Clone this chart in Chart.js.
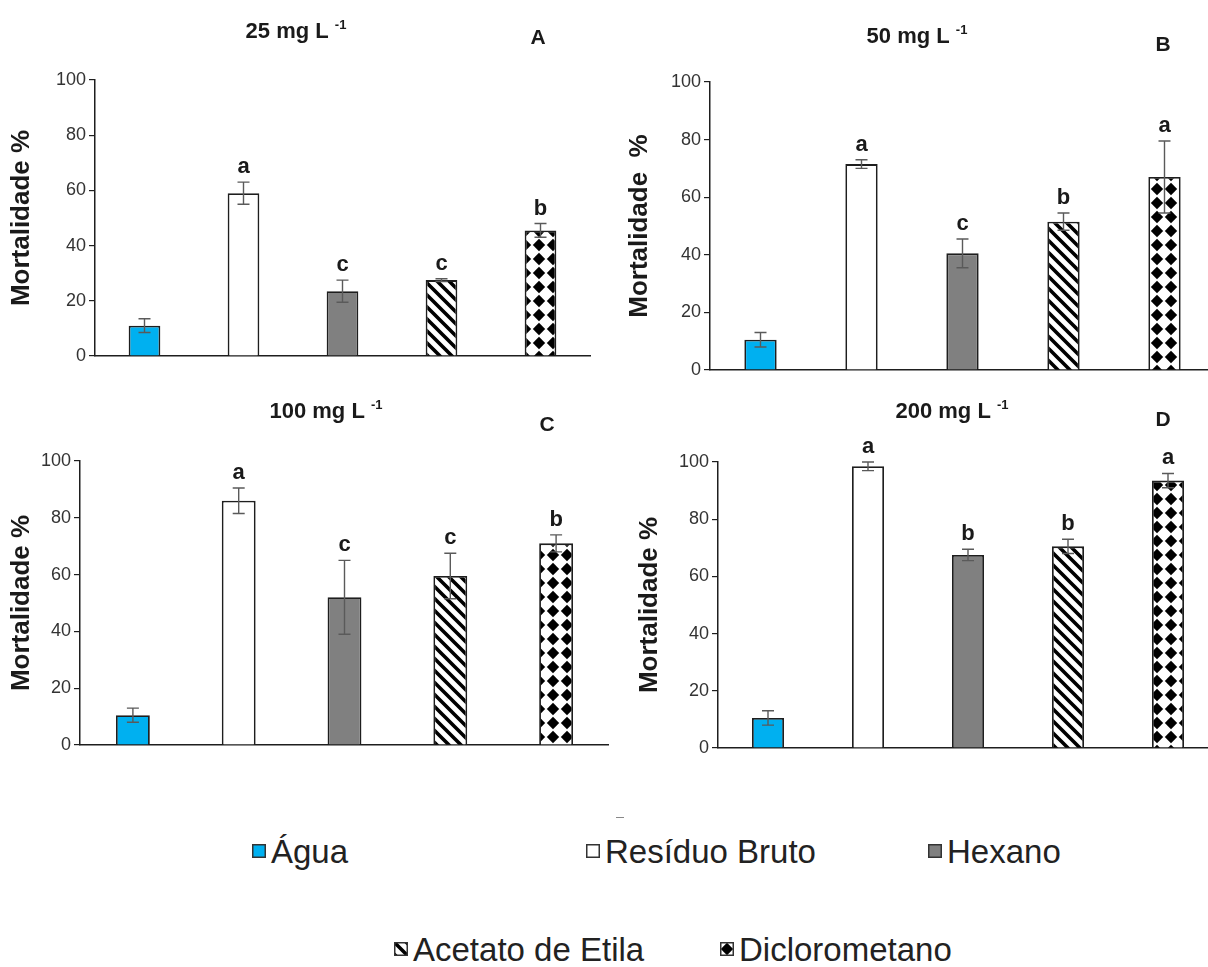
<!DOCTYPE html>
<html>
<head>
<meta charset="utf-8">
<script src="https://cdn.jsdelivr.net/npm/chart.js@4.4.1/dist/chart.umd.min.js"></script>
<style>
  html, body { margin: 0; padding: 0; background: #fff; overflow: hidden; }
  #wrap { position: relative; width: 1208px; height: 967px; overflow: hidden; }
  canvas.panel { position: absolute; }
  .leg { position: absolute; display: flex; align-items: center; white-space: nowrap; line-height: 1;
         font-family: 'Liberation Sans', Arial, sans-serif; font-size: 33px; color: #222; }
  .leg canvas { margin-right: 5px; }
  .tick { position: absolute; left: 616px; top: 817px; width: 8px; height: 1px; background: #888; }
</style>
</head>
<body>
<div id="wrap">
  <canvas id="pA" class="panel"></canvas>
  <canvas id="pB" class="panel"></canvas>
  <canvas id="pC" class="panel"></canvas>
  <canvas id="pD" class="panel"></canvas>
  <div class="tick"></div>
</div>
<script>
// Mortality (%) per extract at four concentrations.
const categories = ['Água', 'Resíduo Bruto', 'Hexano', 'Acetato de Etila', 'Diclorometano'];
const yTicks = [0, 20, 40, 60, 80, 100];

const mort25 = [11, 59, 23.5, 27.5, 45.5];
const err25 = [2.5, 4, 4, 0.5, 2.5];
const sig25 = ['', 'a', 'c', 'c', 'b'];

const mort50 = [10.5, 71.5, 40.5, 51.5, 67];
const err50 = [2.5, 1.5, 5, 3, 12.5];
const sig50 = ['', 'a', 'c', 'b', 'a'];

const mort100 = [10.5, 86, 52, 59.5, 71];
const err100 = [2.5, 4.5, 13, 8, 3];
const sig100 = ['', 'a', 'c', 'c', 'b'];

const mort200 = [10.5, 98.5, 67.5, 70.5, 93.5];
const err200 = [2.5, 1.5, 2, 2.5, 2.5];
const sig200 = ['', 'a', 'b', 'b', 'a'];

const NARROW = "'Liberation Sans Narrow', 'Arial Narrow', 'Liberation Sans', sans-serif";
const SANS = "'Liberation Sans', Arial, sans-serif";
const INK = '#1e1e1e';

function stripePattern(ctx) {
  const n = 12, c = document.createElement('canvas');
  c.width = c.height = n;
  const g = c.getContext('2d');
  g.fillStyle = '#fff'; g.fillRect(0, 0, n, n);
  g.strokeStyle = '#000'; g.lineWidth = 3.6;
  g.beginPath();
  g.moveTo(-2, -2); g.lineTo(n + 2, n + 2);
  g.moveTo(-2, n - 2); g.lineTo(2, n + 2);
  g.moveTo(n - 2, -2); g.lineTo(n + 2, 2);
  g.stroke();
  return ctx.createPattern(c, 'repeat');
}

function diamondPattern(ctx) {
  const n = 14, h = 6.2, c = document.createElement('canvas');
  c.width = c.height = n;
  const g = c.getContext('2d');
  g.fillStyle = '#fff'; g.fillRect(0, 0, n, n);
  g.fillStyle = '#000';
  g.beginPath();
  g.moveTo(n / 2, n / 2 - h); g.lineTo(n / 2 + h, n / 2);
  g.lineTo(n / 2, n / 2 + h); g.lineTo(n / 2 - h, n / 2);
  g.closePath(); g.fill();
  return ctx.createPattern(c, 'repeat');
}

function fillsFor(ctx) {
  return ['#00B0F0', '#FFFFFF', '#808080', stripePattern(ctx), diamondPattern(ctx)];
}

// titles, panel tags, error bars and significance letters
const panelDecor = {
  id: 'panelDecor',
  afterDatasetsDraw(chart, args, opts) {
    const ctx = chart.ctx;
    const ds = chart.data.datasets[0];
    const meta = chart.getDatasetMeta(0);
    const y = chart.scales.y;
    ctx.save();
    meta.data.forEach((bar, i) => {
      const v = ds.data[i], e = ds.errors[i];
      const yt = y.getPixelForValue(v + e), yb = y.getPixelForValue(v - e);
      ctx.strokeStyle = '#5a5a5a';
      ctx.lineWidth = 1.4;
      ctx.beginPath();
      ctx.moveTo(bar.x, yb); ctx.lineTo(bar.x, yt);
      ctx.moveTo(bar.x - 6, yt); ctx.lineTo(bar.x + 6, yt);
      ctx.moveTo(bar.x - 6, yb); ctx.lineTo(bar.x + 6, yb);
      ctx.stroke();
      if (ds.letters[i]) {
        ctx.font = 'bold 22px ' + NARROW;
        ctx.fillStyle = '#1a1a1a';
        ctx.textAlign = 'center';
        ctx.textBaseline = 'alphabetic';
        ctx.fillText(ds.letters[i], bar.x, yt - 9);
      }
    });

    // "NN mg L -1" with superscript
    ctx.textBaseline = 'alphabetic';
    ctx.textAlign = 'left';
    ctx.fillStyle = '#1a1a1a';
    const main = opts.title + ' ';
    ctx.font = 'bold 22px ' + NARROW;
    const w1 = ctx.measureText(main).width;
    ctx.font = 'bold 13px ' + NARROW;
    const w2 = ctx.measureText('-1').width;
    const x0 = opts.titleAt[0] - (w1 + w2) / 2;
    ctx.font = 'bold 22px ' + NARROW;
    ctx.fillText(main, x0, opts.titleAt[1] + 8);
    ctx.font = 'bold 13px ' + NARROW;
    ctx.fillText('-1', x0 + w1, opts.titleAt[1] - 1);

    ctx.font = 'bold 21px ' + NARROW;
    ctx.textAlign = 'center';
    ctx.textBaseline = 'middle';
    ctx.fillText(opts.tag, opts.tagAt[0], opts.tagAt[1]);
    ctx.restore();
  }
};

const panels = [
  { id: 'pA', values: mort25, errors: err25, letters: sig25, title: '25 mg L', tag: 'A', yTitle: 'Mortalidade %',
    left: 0, top: 0, width: 600, height: 380, areaLeft: 95, areaTop: 80, areaBottom: 356, padRight: 10,
    yTitlePad: 6, titleAt: [296, 30], tagAt: [538, 38] },
  { id: 'pB', values: mort50, errors: err50, letters: sig50, title: '50 mg L', tag: 'B', yTitle: 'Mortalidade  %',
    left: 604, top: 0, width: 611, height: 385, areaLeft: 106, areaTop: 82, areaBottom: 370, padRight: 0,
    yTitlePad: 20, titleAt: [313, 35], tagAt: [559, 45] },
  { id: 'pC', values: mort100, errors: err100, letters: sig100, title: '100 mg L', tag: 'C', yTitle: 'Mortalidade %',
    left: 0, top: 380, width: 609, height: 385, areaLeft: 80, areaTop: 81, areaBottom: 365, padRight: 0,
    yTitlePad: 6, titleAt: [326, 30], tagAt: [547, 45] },
  { id: 'pD', values: mort200, errors: err200, letters: sig200, title: '200 mg L', tag: 'D', yTitle: 'Mortalidade %',
    left: 604, top: 380, width: 614, height: 390, areaLeft: 114, areaTop: 82, areaBottom: 368, padRight: 0,
    yTitlePad: 30, titleAt: [348, 30], tagAt: [559, 40] },
];

panels.forEach((p) => {
  const cv = document.getElementById(p.id);
  cv.width = p.width; cv.height = p.height;
  cv.style.left = p.left + 'px'; cv.style.top = p.top + 'px';
  const fills = fillsFor(cv.getContext('2d'));
  new Chart(cv, {
    type: 'bar',
    data: {
      labels: categories,
      datasets: [{
        data: p.values,
        errors: p.errors,
        letters: p.letters,
        backgroundColor: fills,
        borderColor: INK,
        borderWidth: 1.8,
        barPercentage: 0.32,
        categoryPercentage: 1,
      }],
    },
    options: {
      responsive: false,
      animation: false,
      layout: { padding: { top: p.areaTop, right: p.padRight, left: 0, bottom: 0 } },
      plugins: {
        legend: { display: false },
        tooltip: { enabled: false },
        panelDecor: { title: p.title, tag: p.tag, titleAt: p.titleAt, tagAt: p.tagAt },
      },
      scales: {
        x: {
          grid: { display: false },
          border: { color: INK, width: 1.5 },
          ticks: { display: false },
          afterFit: (s) => { s.height = p.height - p.areaBottom; },
        },
        y: {
          min: 0, max: 100,
          afterBuildTicks: (s) => { s.ticks = yTicks.map((v) => ({ value: v })); },
          grid: { drawOnChartArea: false, drawTicks: true, tickLength: 6, color: INK, lineWidth: 1.2 },
          border: { color: INK, width: 1.5 },
          ticks: { font: { family: NARROW, size: 18 }, color: '#333', padding: 3 },
          title: { display: true, text: p.yTitle, color: '#1a1a1a',
                   font: { family: SANS, size: 26, weight: 'bold' }, padding: { top: p.yTitlePad, bottom: 0 } },
          afterFit: (s) => { s.width = p.areaLeft; },
        },
      },
    },
    plugins: [panelDecor],
  });
});

// legend
const legendSpots = [[252, 851], [586, 851], [928, 851], [394, 949], [720, 949]];
const wrap = document.getElementById('wrap');
categories.forEach((name, i) => {
  const d = document.createElement('div');
  d.className = 'leg';
  d.style.left = legendSpots[i][0] + 'px';
  d.style.top = (legendSpots[i][1] - 17) + 'px';
  d.style.height = '34px';
  const sw = document.createElement('canvas');
  sw.width = 14; sw.height = 14;
  const g = sw.getContext('2d');
  g.fillStyle = fillsFor(g)[i];
  g.fillRect(0, 0, 14, 14);
  g.strokeStyle = '#333'; g.lineWidth = 1.5;
  g.strokeRect(0.75, 0.75, 12.5, 12.5);
  d.appendChild(sw);
  const t = document.createElement('span');
  t.textContent = name;
  d.appendChild(t);
  wrap.appendChild(d);
});
</script>
</body>
</html>
